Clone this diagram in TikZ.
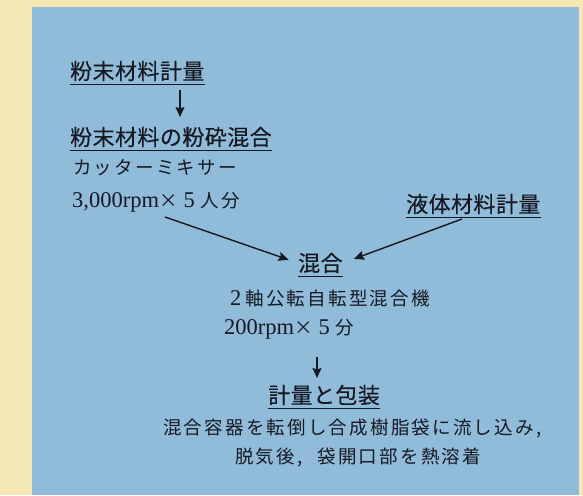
\documentclass[tikz,border=0pt]{standalone}
\usepackage{fontspec}
\usetikzlibrary{arrows.meta}
\newfontfamily\cjkhead[LetterSpace=2,FakeBold=0.3]{Noto Sans CJK JP}
\newfontfamily\cjkbody[LetterSpace=12]{Noto Sans CJK JP}
\newfontfamily\cjkplain{Noto Sans CJK JP}
\newfontfamily\latser{Liberation Serif}
\newcommand\lat[1]{{\latser\fontsize{22.5}{23}\selectfont #1}}
\definecolor{bgyellow}{RGB}{246,232,180}
\definecolor{panelblue}{RGB}{144,188,218}
\definecolor{ink}{RGB}{22,24,34}
\tikzset{
  hd/.style={inner sep=0pt, text=ink, font=\cjkhead\fontsize{22}{24}\selectfont},
  bd/.style={inner sep=0pt, text=ink, font=\cjkbody\fontsize{18.5}{20}\selectfont},
  ul/.style={draw=ink, line width=0.9pt},
  arr/.style={draw=ink, line width=1.4pt, -{Stealth[length=10pt,width=9pt,inset=1.5pt]}}
}
\begin{document}
\begin{tikzpicture}[x=1pt,y=-1pt]
\useasboundingbox (0,0) rectangle (583,495);
\fill[bgyellow] (0,0) rectangle (583,495);
\fill[panelblue] (32,7) rectangle (579,495);
% headings
\node[hd, anchor=west] (h1) at (70,71) {粉末材料計量};
\node[hd, anchor=west] (h2) at (70,137) {粉末材料の粉砕混合};
\node[hd, anchor=west] (liq) at (406,204) {液体材料計量};
\node[hd, anchor=west] (mix) at (298,263) {混合};
\node[hd, anchor=west] (pack) at (268,395) {計量と包装};
% underlines
\draw[ul] ([yshift=-3pt]h1.south west) -- ([yshift=-3pt]h1.south east);
\draw[ul] ([yshift=-3pt]h2.south west) -- ([yshift=-3pt]h2.south east);
\draw[ul] ([yshift=-3pt]liq.south west) -- ([yshift=-3pt]liq.south east);
\draw[ul] ([yshift=-3pt]mix.south west) -- ([yshift=-3pt]mix.south east);
\draw[ul] ([yshift=-3pt]pack.south west) -- ([yshift=-3pt]pack.south east);
% body texts
\node[bd, anchor=west] (cutter) at (73,168) {カッターミキサー};
\node[bd, anchor=west] (rpm1) at (72,202) {\lat{3,000rpm}{\cjkplain ×}\hspace{6pt}\lat{5}\hspace{6pt}人分};
\node[bd, anchor=west] (mixer) at (230,298) {\lat{2}\hspace{4pt}軸公転自転型混合機};
\node[bd, anchor=west] (rpm2) at (224,329) {\lat{200rpm}{\cjkplain ×}\hspace{6pt}\lat{5}\hspace{6pt}分};
\node[bd, anchor=west] (l1) at (163,428) {混合容器を転倒し合成樹脂袋に流し込み,};
\node[bd, anchor=west] (l2) at (235,457) {脱気後,\hspace{15pt}袋開口部を熱溶着};
% arrow endpoints
\coordinate (a1s) at (180,90);
\coordinate (a1e) at (180,117);
\coordinate (a2s) at (165,217);
\coordinate (a3s) at (462,219);
\coordinate (a4s) at (317,357);
\coordinate (a4e) at (317,378);
\draw[arr] (a1s) -- (a1e);
\draw[arr, shorten >=10pt] (a2s) -- (mix.west);
\draw[arr, shorten >=12pt] (a3s) -- (mix.east);
\draw[arr] (a4s) -- (a4e);
\end{tikzpicture}
\end{document}
